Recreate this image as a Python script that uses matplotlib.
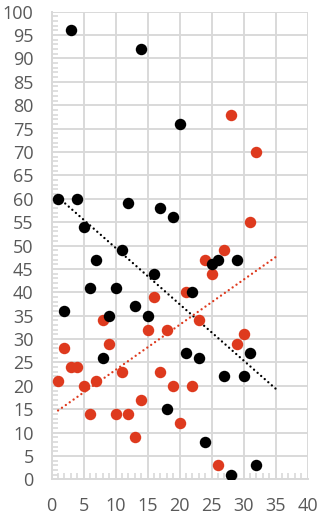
import numpy as np
import matplotlib
matplotlib.use('Agg')
import matplotlib.pyplot as plt
from matplotlib.ticker import MultipleLocator

x = list(range(1, 33))
black_y = [60, 36, 96, 60, 54, 41, 47, 26, 35, 41, 49, 59, 37, 92, 35, 44,
           58, 15, 56, 76, 27, 40, 26, 8, 46, 47, 22, 1, 47, 22, 27, 3]
red_y = [21, 28, 24, 24, 20, 14, 21, 34, 29, 14, 23, 14, 9, 17, 32, 39,
         23, 32, 20, 12, 40, 20, 34, 47, 44, 3, 49, 78, 29, 31, 55, 70]

BLACK = '#000000'
RED = '#DE3A1E'
GRID = '#D9D9D9'
TEXT = '#595959'

plt.rcParams['font.family'] = ['Open Sans', 'DejaVu Sans']

fig = plt.figure(figsize=(3.23, 5.19), dpi=100)
ax = fig.add_axes([0.160, 0.0763, 0.7926, 0.9013])

# trendlines, extended forward a bit like Excel's forecast
xt = np.array([1, 35.5])
for ys, c in [(black_y, BLACK), (red_y, RED)]:
    k, b = np.polyfit(x, ys, 1)
    ax.plot(xt, k * xt + b, color=c, lw=1.7, linestyle=(0, (0.01, 2.0)),
            dash_capstyle='round', zorder=3)

ax.scatter(x, red_y, s=68, color=RED, linewidths=0, zorder=4)
ax.scatter(x, black_y, s=68, color=BLACK, linewidths=0, zorder=5)

ax.set_xlim(0, 40)
ax.set_ylim(0, 100)
ax.xaxis.set_major_locator(MultipleLocator(5))
ax.yaxis.set_major_locator(MultipleLocator(5))
ax.xaxis.set_minor_locator(MultipleLocator(1))
ax.yaxis.set_minor_locator(MultipleLocator(1))
ax.grid(True, which='major', color=GRID, lw=1.4, zorder=0)
ax.set_axisbelow(True)

for side in ['top', 'right']:
    ax.spines[side].set_visible(False)
for side in ['left', 'bottom']:
    ax.spines[side].set_color(GRID)
    ax.spines[side].set_linewidth(1.4)

ax.tick_params(which='major', length=0, labelsize=13, labelcolor=TEXT)
ax.tick_params(axis='x', which='major', pad=13)
ax.tick_params(axis='y', which='major', pad=13)
ax.tick_params(which='minor', direction='in', length=4, width=1.2, color=GRID)

fig.savefig('out.png', dpi=100)
